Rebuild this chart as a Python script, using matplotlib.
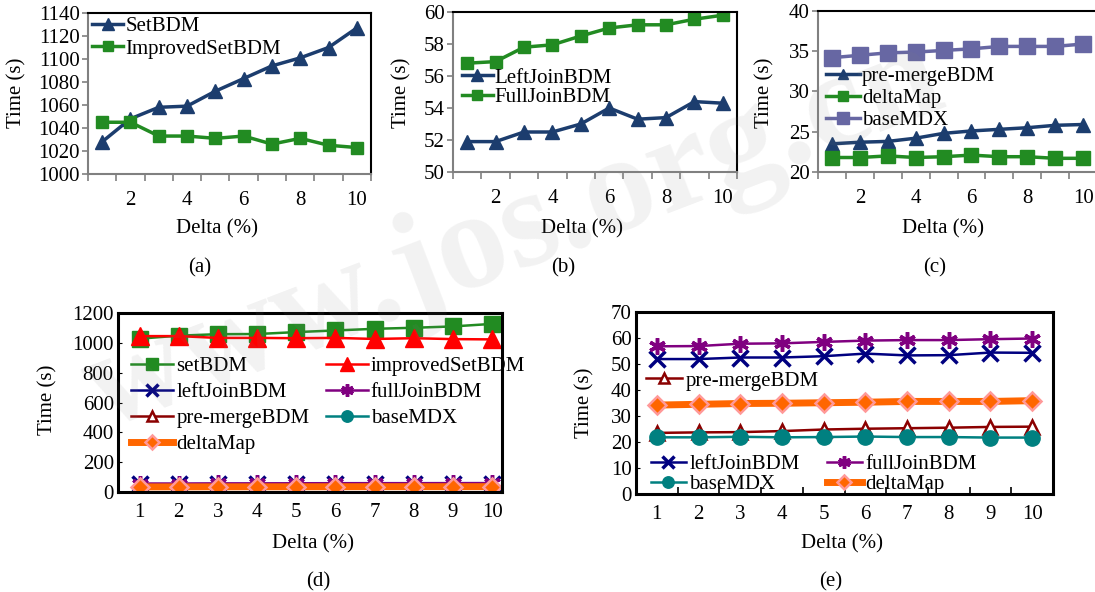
import matplotlib
matplotlib.use("Agg")
import matplotlib.pyplot as plt
import numpy as np

plt.rcParams['font.family'] = ['Liberation Serif', 'DejaVu Serif']
plt.rcParams['font.size'] = 15

delta = list(range(1, 11))

# (a)
set_bdm = [1028, 1048, 1058, 1059, 1072, 1083, 1094, 1101, 1110, 1127]
improved_set_bdm = [1045, 1045, 1033, 1033, 1031, 1033, 1026, 1031, 1025, 1023]
# (b)
left_join_bdm = [51.9, 51.9, 52.5, 52.5, 53.0, 54.0, 53.3, 53.4, 54.4, 54.3]
full_join_bdm = [56.8, 56.9, 57.8, 57.95, 58.5, 59.0, 59.2, 59.2, 59.55, 59.8]
# (c) -- note: in (c) the low series is labelled deltaMap and the high one baseMDX,
# in (d)/(e) the names are the other way round
pre_merge_bdm = [23.5, 23.7, 23.8, 24.2, 24.8, 25.1, 25.3, 25.5, 25.8, 25.9]
base_mdx = [21.8, 21.8, 22.0, 21.8, 21.9, 22.1, 21.9, 21.9, 21.7, 21.7]
delta_map = [34.2, 34.5, 34.8, 34.9, 35.1, 35.3, 35.6, 35.6, 35.6, 35.9]

W, H = 1095, 592
fig = plt.figure(figsize=(W / 100, H / 100), dpi=100)

navy = '#1C3D6E'
green = '#228B22'
lav = '#6767A3'


def add_ax(l, t, r, b):
    return fig.add_axes([l / W, 1 - b / H, (r - l) / W, (b - t) / H])


def ftext(x, y, s, **kw):
    fig.text(x / W, 1 - y / H, s, ha='center', va='center', **kw)


def top_axes(rect, ylim, yticks):
    ax = add_ax(*rect)
    ax.set_xlim(0.5, 10.5)
    ax.set_ylim(*ylim)
    ax.set_yticks(yticks)
    ax.set_xticks(range(2, 11, 2))
    ax.set_xticks(np.arange(0.5, 11, 1), minor=True)
    ax.tick_params(axis='x', which='major', length=0, pad=12)
    ax.tick_params(axis='x', which='minor', length=5, direction='out', color='#808080', width=1.2)
    ax.tick_params(axis='y', length=4, direction='out', color='#808080', pad=2, width=1.2)
    for s in ['top', 'right']:
        ax.spines[s].set_color('black')
        ax.spines[s].set_linewidth(1.5)
    for s in ['left', 'bottom']:
        ax.spines[s].set_color('#808080')
        ax.spines[s].set_linewidth(1.5)
    return ax


def bottom_axes(rect, ylim, yticks):
    ax = add_ax(*rect)
    ax.set_ylim(*ylim)
    ax.set_yticks(yticks)
    ax.set_xticks(delta)
    for s in ax.spines.values():
        s.set_linewidth(2.2)
    ax.tick_params(axis='y', length=3, direction='in', pad=3)
    return ax


# ---- (a)
ax = top_axes((88, 13, 371, 174), (1000, 1140), range(1000, 1141, 20))
ax.plot(delta, set_bdm, color=navy, lw=2.5, marker='^', ms=10, label='SetBDM')
ax.plot(delta, improved_set_bdm, color=green, lw=2.5, marker='s', ms=9, label='ImprovedSetBDM')
ax.legend(loc='upper left', bbox_to_anchor=(0.015, 0.98), frameon=False, handlelength=1.5,
          handletextpad=0.1, borderaxespad=0, borderpad=0, labelspacing=0.15, markerscale=0.8)

# ---- (b)
ax = top_axes((453, 12, 737, 172), (50, 60), range(50, 61, 2))
ax.plot(delta, left_join_bdm, color=navy, lw=2.5, marker='^', ms=10, label='LeftJoinBDM')
ax.plot(delta, full_join_bdm, color=green, lw=2.5, marker='s', ms=9, label='FullJoinBDM')
ax.legend(loc='upper left', bbox_to_anchor=(0.03, 0.65), frameon=False, handlelength=1.5,
          handletextpad=0.1, borderaxespad=0, borderpad=0, labelspacing=0.0, markerscale=0.8)

# ---- (c)
ax = top_axes((818, 11, 1097, 172), (20, 40), range(20, 41, 5))
ax.plot(delta, pre_merge_bdm, color=navy, lw=2.5, marker='^', ms=10, label='pre-mergeBDM')
ax.plot(delta, base_mdx, color=green, lw=2.5, marker='s', ms=10, label='deltaMap')
ax.plot(delta, delta_map, color=lav, lw=2.5, marker='s', ms=12, label='baseMDX')
ax.legend(loc='upper left', bbox_to_anchor=(0.03, 0.655), frameon=False, handlelength=1.6,
          handletextpad=0.1, borderaxespad=0, borderpad=0, labelspacing=0.12, markerscale=0.75)


def bottom_series(ax, lw=1.8):
    h = {}
    h['pre'], = ax.plot(delta, pre_merge_bdm, color='#8B0000', lw=lw, marker='^', ms=10,
                        mfc='white', mec='#8B0000', mew=1.8, label='pre-mergeBDM')
    h['base'], = ax.plot(delta, base_mdx, color='#008080', lw=lw, marker='o', ms=11,
                         label='baseMDX')
    h['left'], = ax.plot(delta, left_join_bdm, color='#000080', lw=lw, marker='x', ms=11,
                         mew=2.5, label='leftJoinBDM')
    h['full'], = ax.plot(delta, full_join_bdm, color='#800080', lw=lw, marker=(6, 2, 0), ms=12,
                         mew=2.5, label='fullJoinBDM')
    h['dm'], = ax.plot(delta, delta_map, color='#FF6600', lw=5, marker='D', ms=9,
                       mfc='#FF6600', mec='#FF9999', mew=1.8, label='deltaMap')
    return h


# ---- (d)
ax = bottom_axes((118, 313, 502, 492), (0, 1200), range(0, 1201, 200))
ax.set_xlim(0.45, 10.25)
ax.tick_params(axis='x', length=0, pad=8)
hs, = ax.plot(delta, set_bdm, color=green, lw=1.8, marker='s', ms=12, label='setBDM')
hi, = ax.plot(delta, improved_set_bdm, color='#FF0000', lw=1.8, marker='^', ms=13,
              label='improvedSetBDM')
h = bottom_series(ax)
ax.legend([hs, h['left'], h['pre'], h['dm'], hi, h['full'], h['base']],
          ['setBDM', 'leftJoinBDM', 'pre-mergeBDM', 'deltaMap', 'improvedSetBDM',
           'fullJoinBDM', 'baseMDX'],
          ncol=2, loc='upper left', bbox_to_anchor=(0.035, 0.755), frameon=False,
          handlelength=2.0, handletextpad=0.15, borderaxespad=0, borderpad=0,
          labelspacing=0.3, columnspacing=0.8, markerscale=0.75)

# ---- (e)
ax = bottom_axes((636, 312, 1053, 494), (0, 70), range(0, 71, 10))
ax.set_xlim(0.5, 10.5)
ax.set_xticks(np.arange(1.5, 10, 1), minor=True)
ax.tick_params(axis='x', which='major', length=0, pad=8)
ax.tick_params(axis='x', which='minor', length=5, direction='in', width=1.2)
h = bottom_series(ax)
leg1 = ax.legend([h['pre']], ['pre-mergeBDM'], loc='upper left', bbox_to_anchor=(0.025, 0.675),
                 frameon=False, handlelength=1.7, handletextpad=0.2, borderaxespad=0,
                 borderpad=0, markerscale=0.75)
ax.add_artist(leg1)
ax.legend([h['left'], h['base'], h['full'], h['dm']],
          ['leftJoinBDM', 'baseMDX', 'fullJoinBDM', 'deltaMap'],
          ncol=2, loc='upper left', bbox_to_anchor=(0.035, 0.215), frameon=False,
          handlelength=1.7, handletextpad=0.15, borderaxespad=0, borderpad=0,
          labelspacing=0.0, columnspacing=1.3, markerscale=0.75)

# axis titles and captions
for x, y in [(217, 229), (582, 229), (943, 229), (313, 544), (842, 544)]:
    ftext(x, y, 'Delta (%)')
for x, y in [(17, 93), (402, 93), (765, 93), (48, 400), (585, 403)]:
    ftext(x, y, 'Time (s)', rotation=90)
for x, y, s in [(200, 268, '(a)'), (563, 268, '(b)'), (935, 268, '(c)'),
                (318, 582, '(d)'), (831, 582, '(e)')]:
    ftext(x, y, s)

# faint watermark of the source site
fig.text(0.47, 0.6, 'www.jos.org.cn', rotation=21, fontsize=100, color='gray', alpha=0.1,
         ha='center', va='center', fontweight='bold', zorder=10)

fig.savefig('out.png', dpi=100)
